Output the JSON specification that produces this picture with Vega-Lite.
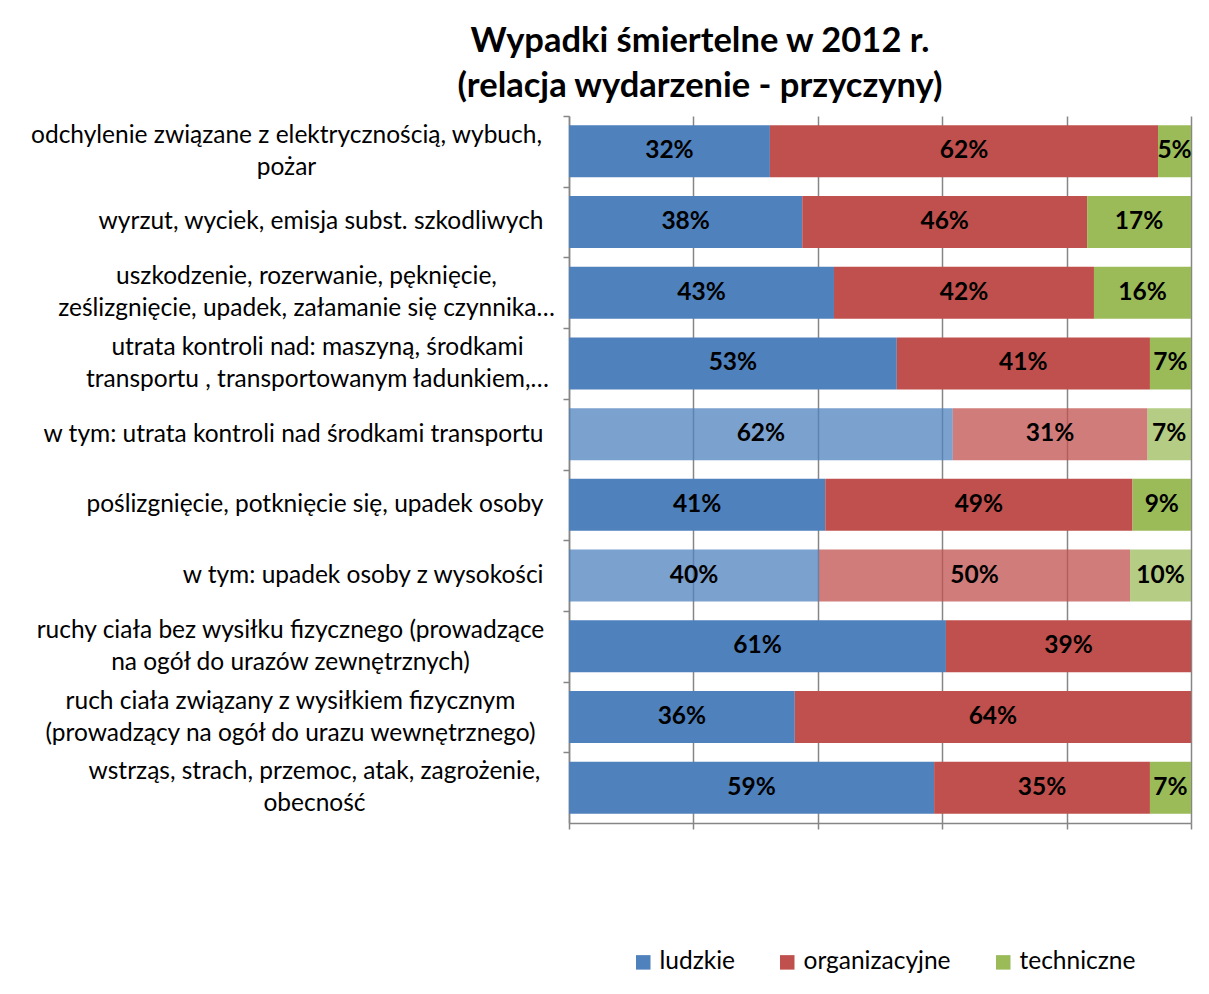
{
  "$schema": "https://vega.github.io/schema/vega-lite/v6.json",
  "autosize": "none",
  "width": 622,
  "height": 707,
  "padding": {"left": 569, "top": 116, "right": 18, "bottom": 171},
  "background": "white",
  "title": {
    "text": ["Wypadki śmiertelne w 2012 r.", "(relacja wydarzenie - przyczyny)"],
    "font": "Lato",
    "fontSize": 34.5,
    "fontWeight": "bold",
    "color": "black",
    "lineHeight": 45,
    "anchor": "middle",
    "frame": "group",
    "dx": -180,
    "offset": 11
  },
  "data": {
    "values": [
      {"kategoria": "odchylenie związane z elektrycznością, wybuch,|pożar", "przyczyna": "ludzkie", "udzial": 0.323},
      {"kategoria": "odchylenie związane z elektrycznością, wybuch,|pożar", "przyczyna": "organizacyjne", "udzial": 0.624},
      {"kategoria": "odchylenie związane z elektrycznością, wybuch,|pożar", "przyczyna": "techniczne", "udzial": 0.053},
      {"kategoria": "wyrzut, wyciek, emisja subst. szkodliwych", "przyczyna": "ludzkie", "udzial": 0.375},
      {"kategoria": "wyrzut, wyciek, emisja subst. szkodliwych", "przyczyna": "organizacyjne", "udzial": 0.458},
      {"kategoria": "wyrzut, wyciek, emisja subst. szkodliwych", "przyczyna": "techniczne", "udzial": 0.167},
      {"kategoria": "uszkodzenie, rozerwanie, pęknięcie,|ześlizgnięcie, upadek, załamanie się czynnika…", "przyczyna": "ludzkie", "udzial": 0.426},
      {"kategoria": "uszkodzenie, rozerwanie, pęknięcie,|ześlizgnięcie, upadek, załamanie się czynnika…", "przyczyna": "organizacyjne", "udzial": 0.418},
      {"kategoria": "uszkodzenie, rozerwanie, pęknięcie,|ześlizgnięcie, upadek, załamanie się czynnika…", "przyczyna": "techniczne", "udzial": 0.156},
      {"kategoria": "utrata kontroli nad: maszyną, środkami|transportu , transportowanym ładunkiem,…", "przyczyna": "ludzkie", "udzial": 0.527},
      {"kategoria": "utrata kontroli nad: maszyną, środkami|transportu , transportowanym ładunkiem,…", "przyczyna": "organizacyjne", "udzial": 0.407},
      {"kategoria": "utrata kontroli nad: maszyną, środkami|transportu , transportowanym ładunkiem,…", "przyczyna": "techniczne", "udzial": 0.066},
      {"kategoria": "w tym: utrata kontroli nad środkami transportu", "przyczyna": "ludzkie", "udzial": 0.617},
      {"kategoria": "w tym: utrata kontroli nad środkami transportu", "przyczyna": "organizacyjne", "udzial": 0.313},
      {"kategoria": "w tym: utrata kontroli nad środkami transportu", "przyczyna": "techniczne", "udzial": 0.07},
      {"kategoria": "poślizgnięcie, potknięcie się, upadek osoby", "przyczyna": "ludzkie", "udzial": 0.412},
      {"kategoria": "poślizgnięcie, potknięcie się, upadek osoby", "przyczyna": "organizacyjne", "udzial": 0.494},
      {"kategoria": "poślizgnięcie, potknięcie się, upadek osoby", "przyczyna": "techniczne", "udzial": 0.094},
      {"kategoria": "w tym: upadek osoby z wysokości", "przyczyna": "ludzkie", "udzial": 0.402},
      {"kategoria": "w tym: upadek osoby z wysokości", "przyczyna": "organizacyjne", "udzial": 0.5},
      {"kategoria": "w tym: upadek osoby z wysokości", "przyczyna": "techniczne", "udzial": 0.098},
      {"kategoria": "ruchy ciała bez wysiłku fizycznego (prowadzące|na ogół do urazów zewnętrznych)", "przyczyna": "ludzkie", "udzial": 0.606},
      {"kategoria": "ruchy ciała bez wysiłku fizycznego (prowadzące|na ogół do urazów zewnętrznych)", "przyczyna": "organizacyjne", "udzial": 0.394},
      {"kategoria": "ruch ciała związany z wysiłkiem fizycznym|(prowadzący na ogół do urazu wewnętrznego)", "przyczyna": "ludzkie", "udzial": 0.363},
      {"kategoria": "ruch ciała związany z wysiłkiem fizycznym|(prowadzący na ogół do urazu wewnętrznego)", "przyczyna": "organizacyjne", "udzial": 0.637},
      {"kategoria": "wstrząs, strach, przemoc, atak, zagrożenie,|obecność", "przyczyna": "ludzkie", "udzial": 0.587},
      {"kategoria": "wstrząs, strach, przemoc, atak, zagrożenie,|obecność", "przyczyna": "organizacyjne", "udzial": 0.347},
      {"kategoria": "wstrząs, strach, przemoc, atak, zagrożenie,|obecność", "przyczyna": "techniczne", "udzial": 0.066}
    ]
  },
  "encoding": {
    "y": {
      "field": "kategoria",
      "type": "nominal",
      "sort": null,
      "title": null,
      "scale": {"paddingInner": 0.265, "paddingOuter": 0.13},
      "axis": {
        "labelExpr": "split(datum.label, '|')",
        "labelFont": "Lato",
        "labelFontSize": 24.5,
        "labelColor": "black",
        "labelLineHeight": 32,
        "labelLimit": 700,
        "labelAlign": {"condition": {"test": "indexof(datum.value, '|') >= 0", "value": "center"}, "value": "right"},
        "labelPadding": {
          "condition": [
            {"test": "indexof(datum.value, 'odchylenie') === 0", "value": 277},
            {"test": "indexof(datum.value, 'uszkodzenie') === 0", "value": 257},
            {"test": "indexof(datum.value, 'utrata kontroli nad:') === 0", "value": 246},
            {"test": "indexof(datum.value, 'ruchy ciała') === 0", "value": 273},
            {"test": "indexof(datum.value, 'ruch ciała z') === 0", "value": 273},
            {"test": "indexof(datum.value, 'wstrząs') === 0", "value": 249}
          ],
          "value": 20
        },
        "labelOffset": {"condition": {"test": "indexof(datum.value, '|') >= 0", "value": 19.35}, "value": 35.35},
        "tickOffset": -35.35,
        "tickSize": 6,
        "tickColor": "#868686",
        "domainColor": "#868686",
        "domainWidth": 1.5,
        "tickWidth": 1.5
      }
    }
  },
  "layer": [
    {
      "mark": {"type": "bar"},
      "encoding": {
        "x": {
          "field": "udzial",
          "type": "quantitative",
          "stack": "normalize",
          "title": null,
          "scale": {"domain": [0, 1], "nice": false},
          "axis": {
            "values": [0, 0.2, 0.4, 0.6, 0.8, 1],
            "labels": false,
            "grid": true,
            "gridColor": "#868686",
            "gridWidth": 1.5,
            "tickColor": "#868686",
            "tickWidth": 1.5,
            "tickSize": 6,
            "domainColor": "#868686",
            "domainWidth": 1.5
          }
        },
        "order": {"field": "przyczyna", "sort": "ascending"},
        "color": {
          "field": "przyczyna",
          "type": "nominal",
          "scale": {
            "domain": ["ludzkie", "organizacyjne", "techniczne"],
            "range": ["#4F81BD", "#C0504D", "#9BBB59"]
          },
          "legend": {
            "title": null,
            "orient": "none",
            "direction": "horizontal",
            "legendX": 62,
            "legendY": 834,
            "symbolType": "square",
            "symbolSize": 210,
            "symbolStrokeWidth": 0,
            "labelFont": "Lato",
            "labelFontSize": 24.5,
            "labelColor": "black",
            "labelOffset": 4,
            "columnPadding": 40
          }
        },
        "opacity": {
          "condition": {"test": "indexof(datum.kategoria, 'w tym') === 0", "value": 0.75},
          "value": 1
        }
      }
    },
    {
      "mark": {"type": "text", "font": "Lato", "fontSize": 24.5, "fontWeight": "bold", "color": "black", "baseline": "middle"},
      "encoding": {
        "x": {"field": "udzial", "type": "quantitative", "stack": "normalize", "bandPosition": 0.5},
        "order": {"field": "przyczyna", "sort": "ascending"},
        "detail": {"field": "przyczyna"},
        "text": {"field": "udzial", "type": "quantitative", "format": ".0%"}
      }
    }
  ],
  "config": {
    "view": {"stroke": null}
  }
}
